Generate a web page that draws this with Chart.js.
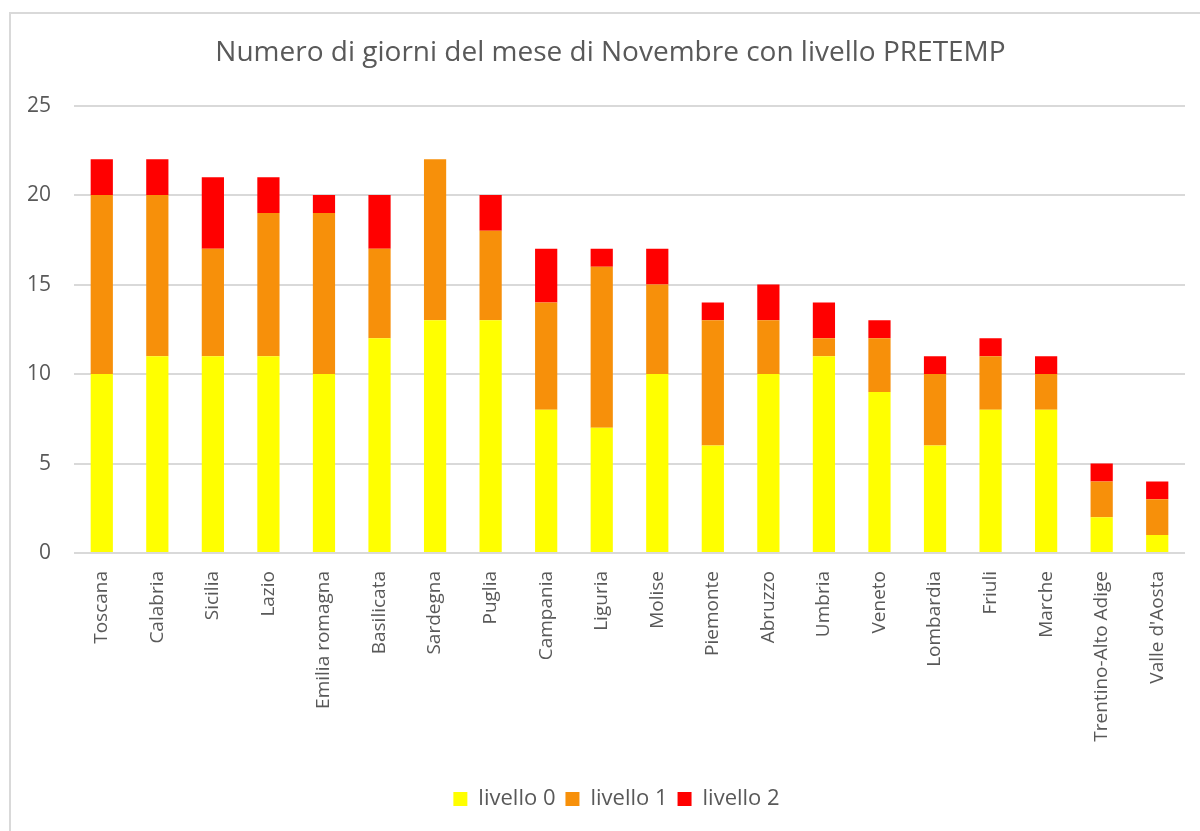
<!DOCTYPE html>
<html>
<head>
<meta charset="utf-8">
<script src="https://cdn.jsdelivr.net/npm/chart.js@4.4.1/dist/chart.umd.min.js"></script>
<style>
  body { margin: 0; background: #fff; }
  #wrap { position: relative; width: 1200px; height: 831px; overflow: hidden; }
  #frame { position: absolute; left: 9px; top: 12px; width: 1300px; height: 900px; border: 2px solid #d9d9d9; }
  #grafico { position: absolute; left: 0; top: 0; }
</style>
</head>
<body>
<div id="wrap">
  <div id="frame"></div>
  <canvas id="grafico" width="1200" height="831"></canvas>
</div>
<script>
var regioni = ["Toscana", "Calabria", "Sicilia", "Lazio", "Emilia romagna", "Basilicata", "Sardegna", "Puglia",
  "Campania", "Liguria", "Molise", "Piemonte", "Abruzzo", "Umbria", "Veneto", "Lombardia", "Friuli", "Marche",
  "Trentino-Alto Adige", "Valle d'Aosta"];
var livello0 = [10, 11, 11, 11, 10, 12, 13, 13, 8, 7, 10, 6, 10, 11, 9, 6, 8, 8, 2, 1];
var livello1 = [10, 9, 6, 8, 9, 5, 9, 5, 6, 9, 5, 7, 3, 1, 3, 4, 3, 2, 2, 2];
var livello2 = [2, 2, 4, 2, 1, 3, 0, 2, 3, 1, 2, 1, 2, 2, 1, 1, 1, 1, 1, 1];
var yTicks = [0, 5, 10, 15, 20, 25];

var grigio = "#595959";
var font = "'Open Sans', 'Noto Sans', sans-serif";

// title and legend sit centred on the frame, not on the canvas
var centraSuCornice = {
  id: 'centraSuCornice',
  afterLayout: function(chart) {
    if (chart.titleBlock) chart.titleBlock.left += 36;
    if (chart.legend) chart.legend.left += 48;
  }
};

var ctx = document.getElementById("grafico").getContext("2d");
var myChart = new Chart(ctx, {
  type: 'bar',
  data: {
    labels: regioni,
    datasets: [
      { label: 'livello 0', data: livello0, backgroundColor: "#ffff00" },
      { label: 'livello 1', data: livello1, backgroundColor: "#f7900a" },
      { label: 'livello 2', data: livello2, backgroundColor: "#ff0000" }
    ]
  },
  plugins: [centraSuCornice],
  options: {
    responsive: false,
    animation: false,
    layout: { padding: { left: 0, right: 15, top: 0, bottom: 11 } },
    datasets: { bar: { barPercentage: 0.4, categoryPercentage: 1.0 } },
    plugins: {
      title: {
        display: true,
        text: 'Numero di giorni del mese di Novembre con livello PRETEMP',
        color: grigio,
        font: { family: font, size: 28, weight: 'normal' },
        padding: { top: 36, bottom: 36 }
      },
      legend: {
        position: 'bottom',
        labels: {
          color: grigio,
          font: { family: font, size: 22 },
          boxWidth: 14,
          boxHeight: 14,
          padding: 10
        }
      },
      tooltip: { enabled: false }
    },
    scales: {
      x: {
        stacked: true,
        grid: { display: false, drawTicks: false },
        border: { display: false },
        ticks: {
          color: grigio,
          font: { family: font, size: 19 },
          minRotation: 90,
          maxRotation: 90,
          autoSkip: false,
          padding: 18
        },
        afterFit: function(scale) { scale.height = 225; }
      },
      y: {
        stacked: true,
        min: 0,
        max: 25,
        afterBuildTicks: function(scale) {
          scale.ticks = yTicks.map(function(v) { return { value: v }; });
        },
        grid: { color: "#d9d9d9", lineWidth: 2, drawTicks: false },
        border: { display: false },
        ticks: {
          color: grigio,
          font: { family: font, size: 21 },
          padding: 23
        },
        afterFit: function(scale) { scale.width = 74; }
      }
    }
  }
});
</script>
</body>
</html>
